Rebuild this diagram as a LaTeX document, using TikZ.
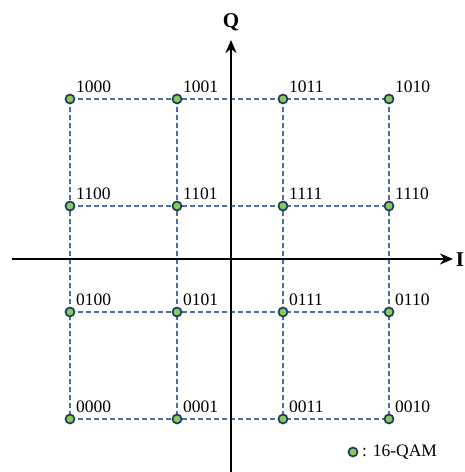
\documentclass[tikz,border=0pt]{standalone}
\usepackage{fontspec}
\setmainfont{Liberation Serif}
\usetikzlibrary{arrows.meta}
\definecolor{dotgreen}{HTML}{8CCB4E}
\definecolor{dotedge}{HTML}{1B3A6B}
\definecolor{gridblue}{HTML}{4A6FB0}
\begin{document}
\begin{tikzpicture}[x=1pt,y=1pt,
  qdot/.style={circle,fill=dotgreen,draw=dotedge,line width=1.7pt,inner sep=0pt,minimum size=9pt},
  gridline/.style={draw=gridblue,line width=1.1pt,dash pattern=on 5pt off 3pt},
  axisline/.style={line width=2.6pt,-{Stealth[length=13pt,width=11pt]}},
  lbl/.style={anchor=base west,inner sep=0pt,font=\fontsize{17.5}{19}\selectfont},
  axlbl/.style={font=\fontsize{21}{24}\selectfont\bfseries}]
\useasboundingbox (0,0) rectangle (465,472);
% grid coordinates
\foreach \c/\x in {1/70,2/177,3/283,4/389}{
  \foreach \r/\y in {1/373,2/266,3/160,4/53}{
    \coordinate (p\r\c) at (\x,\y);
  }
}
% dashed grid
\foreach \r in {1,2,3,4}{ \draw[gridline] (p\r1) -- (p\r4); }
\foreach \c in {1,2,3,4}{ \draw[gridline] (p1\c) -- (p4\c); }
% axes
\coordinate (xs) at (12,213);
\coordinate (xe) at (453,213);
\coordinate (ys) at (231,-2);
\coordinate (ye) at (231,432);
\draw[axisline] (xs) -- (xe);
\draw[axisline] (ys) -- (ye);
\node[axlbl] (Q) at (231,450) {Q};
\node[axlbl] (I) at (460,212) {I};
% points and labels
\foreach \r/\c/\t in {1/1/1000,1/2/1001,1/3/1011,1/4/1010,
                      2/1/1100,2/2/1101,2/3/1111,2/4/1110,
                      3/1/0100,3/2/0101,3/3/0111,3/4/0110,
                      4/1/0000,4/2/0001,4/3/0011,4/4/0010}{
  \node[qdot] (d\r\c) at (p\r\c) {};
  \node[lbl] (l\r\c) at ([xshift=6pt,yshift=6pt]p\r\c) {\t};
}
% legend
\node[qdot] (legdot) at (353,20) {};
\node[anchor=west,inner sep=0pt,font=\fontsize{17.5}{19}\selectfont] (legtxt) at (362,20) {: 16-QAM};
\end{tikzpicture}
\end{document}
